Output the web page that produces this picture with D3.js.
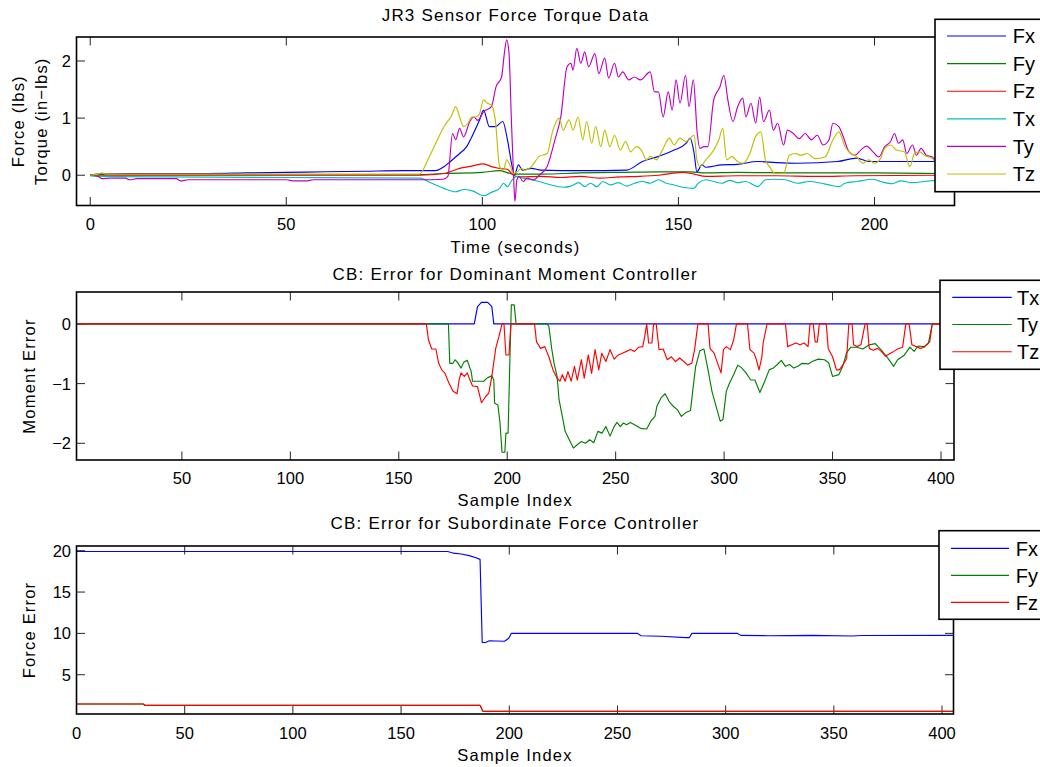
<!DOCTYPE html>
<html>
<head>
<meta charset="utf-8">
<script src="https://cdn.jsdelivr.net/npm/d3@7"></script>
<style>
body { margin: 0; background: #fff; }
text { font-family: "Liberation Sans", Arial, Helvetica, sans-serif; fill: #000; }
</style>
</head>
<body>
<svg id="fig" width="1040" height="767"></svg>
<script>
// ---- JR3 sensor data: [time (s), value] ----
const jr3Fx = [[0,0.0],[2,0.02],[10,0.03],[20,0.03],[30,0.03],[40,0.04],[50,0.05],[60,0.06],[70,0.07],[80,0.08],[88,0.08],
  [90.2,0.15],[92,0.25],[94.2,0.38],[96,0.5],[97.3,0.67],[99.3,0.97],[100.3,1.14],[101.8,0.85],[103.3,0.85],[105.2,0.94],
  [106.4,0.62],[107.6,0.15],[108.2,0.0],[109.2,0.18],[110.2,0.09],[112.5,0.12],[115,0.09],[125,0.08],[136.8,0.09],
  [140.8,0.24],[144.9,0.33],[148.9,0.44],[152,0.56],[153,0.65],[154,0.38],[154.7,0.06],[156,0.18],[157,0.14],[161,0.18],
  [165,0.19],[170.2,0.24],[175,0.22],[180.3,0.21],[190.5,0.24],[195.5,0.3],[198.5,0.24],[205.6,0.24],[215.5,0.24]];
const jr3Fy = [[0,0.01],[84,0.01],[90,0.03],[100,0.05],[104.4,0.08],[107.9,0.02],[115,0.02],[125,0.04],[135,0.05],
  [145,0.06],[153,0.06],[157,0.04],[165,0.05],[180,0.04],[200,0.04],[215.5,0.03]];
const jr3Fz = [[0,0],[84,0],[90.2,0.03],[94.2,0.12],[97.3,0.16],[100.3,0.2],[102.3,0.15],[104.4,0.12],[106.4,0.1],
  [107.9,0.0],[109.5,-0.03],[115,-0.02],[120,-0.04],[125,-0.02],[130,-0.05],[135,-0.03],[140,-0.02],[145,0.0],
  [151,0.05],[154,0.02],[157,-0.02],[165,-0.01],[175,-0.01],[185,-0.02],[195,-0.01],[215.5,0.0]];
const jr3Tx = [[0,-0.01],[5,-0.02],[20,-0.03],[50,-0.04],[84,-0.05],[87.1,-0.14],[90.2,-0.23],[93.2,-0.29],[95.2,-0.25],
  [97.3,-0.27],[100.3,-0.36],[102.3,-0.3],[104.4,-0.23],[105.4,-0.14],[106.4,-0.2],[107.6,-0.08],[108.9,-0.02],
  [110.4,-0.05],[112.5,-0.08],[114.5,-0.11],[117.5,-0.17],[120.6,-0.21],[122.6,-0.19],[124.6,-0.13],[126.1,-0.2],
  [127.6,-0.14],[129.2,-0.2],[130.7,-0.11],[132.7,-0.17],[134.7,-0.13],[136.8,-0.19],[138.8,-0.14],[140.8,-0.11],
  [142.8,-0.14],[144.9,-0.08],[146.9,-0.14],[148.9,-0.17],[151,-0.21],[154,-0.23],[155,-0.14],[157,-0.08],[159,-0.11],
  [161.1,-0.14],[163.1,-0.09],[165.1,-0.13],[167.2,-0.11],[170.2,-0.2],[172.2,-0.08],[174.2,-0.07],[177.3,-0.08],
  [180.3,-0.14],[183.4,-0.11],[186.4,-0.14],[188.4,-0.17],[190.9,-0.2],[192.5,-0.14],[195.5,-0.11],[199.6,-0.07],
  [201.6,-0.11],[204.6,-0.15],[206.6,-0.1],[209.7,-0.13],[212.7,-0.11],[215.5,-0.09]];
const jr3Ty = [[0,0],[2,-0.02],[3,-0.06],[5,-0.05],[9,-0.05],[10,-0.08],[12,-0.06],[22,-0.06],[23,-0.1],[25,-0.08],
  [50,-0.08],[52,-0.1],[55,-0.1],[57,-0.08],[70,-0.08],[84,-0.08],[90,-0.07],[91.2,-0.02],[92.4,0.73],[93.2,0.62],
  [94.2,0.82],[95.2,0.67],[96.8,0.94],[97.8,1.02],[98.8,0.96],[100.3,1.11],[102.3,1.2],[103.5,1.55],[104.9,1.72],
  [105.6,2.13],[106.2,2.37],[106.8,2.13],[107.4,0.97],[108,-0.08],[108.3,-0.46],[108.8,-0.08],[109.4,-0.02],
  [110.4,-0.11],[111.4,-0.05],[113,-0.08],[114.5,0.0],[116.5,0.15],[118.5,0.62],[120,1.02],[121.6,1.9],[122.6,1.96],
  [123.1,1.84],[124.1,2.22],[125.1,1.96],[126.1,2.16],[127.1,1.9],[128.7,2.13],[129.7,1.78],[131.2,2.05],[132.2,1.7],
  [133.7,1.96],[134.7,1.72],[135.8,1.81],[137.3,1.67],[138.8,1.72],[140.3,1.67],[142.8,1.81],[143.9,1.46],[144.9,1.46],
  [146.1,1.02],[147.4,1.46],[148.4,1.14],[149.4,1.67],[150.4,1.26],[151.8,1.75],[152.7,1.2],[153.8,1.67],[154.8,0.73],
  [155.5,0.47],[156.5,0.5],[157.5,0.5],[159,1.32],[160.6,1.55],[161.6,1.75],[162.6,1.32],[163.9,0.94],[165.1,1.2],
  [166.4,1.35],[167.2,1.02],[168.5,1.26],[169.7,0.91],[170.7,1.37],[171.7,0.94],[173.2,1.14],[174.2,0.79],[175.3,0.91],
  [176.8,0.53],[177.8,0.79],[179.3,0.73],[180.8,0.64],[182.3,0.73],[183.9,0.62],[185.4,0.7],[186.9,0.53],[188.4,0.62],
  [189.4,0.91],[190.9,0.85],[191.9,0.7],[193.5,0.41],[195,0.35],[196.5,0.44],[198,0.51],[199.6,0.41],[201.1,0.32],
  [202.6,0.5],[204.1,0.59],[205.1,0.73],[206.1,0.56],[207.2,0.62],[208.2,0.38],[209.7,0.53],[210.7,0.35],[211.9,0.47],
  [213.2,0.35],[214.8,0.32],[215.6,0.21]];
const jr3Tz = [[0,0.0],[2,0.02],[3,0.04],[4,0.02],[84,0.02],[86.1,0.27],[88.1,0.56],[90.2,0.85],[92.2,1.05],[93.2,1.2],
  [94.2,1.02],[95.2,0.85],[96.3,0.91],[97.3,1.02],[98.3,1.02],[99.3,1.08],[100.3,1.32],[101.3,1.26],[102.3,1.23],
  [103.3,0.97],[104.4,0.15],[105.4,0.09],[106.2,0.27],[107.2,0.15],[107.9,0.03],[108.9,0.06],[109.9,0.12],[110.9,0.09],
  [112.5,0.15],[114.5,0.33],[116.5,0.38],[118,0.79],[119.6,1.0],[120.6,0.79],[122.1,0.97],[123.1,0.79],[124.4,1.02],
  [125.6,0.62],[126.6,0.94],[127.9,0.56],[128.9,0.85],[130.2,0.5],[131.2,0.79],[132.5,0.5],[133.7,0.7],[135.2,0.44],
  [136.5,0.59],[137.8,0.41],[139.3,0.5],[140.8,0.41],[141.8,0.27],[142.8,0.33],[144.4,0.27],[145.9,0.44],[147.7,0.65],
  [148.9,0.53],[150.4,0.65],[151.9,0.59],[154,0.7],[154.7,0.27],[155.5,0.15],[157,0.27],[159,0.44],[160.3,0.62],
  [161.3,0.82],[162.3,0.27],[163.6,0.33],[165.1,0.24],[166.6,0.21],[168.2,0.38],[169.7,0.68],[171,0.76],[172.2,0.27],
  [173.2,0.15],[174.7,0.03],[176.8,0.03],[178.3,0.35],[179.8,0.38],[181.3,0.35],[182.8,0.38],[184.9,0.29],[187.4,0.32],
  [189.4,0.62],[190.9,0.76],[192.5,0.5],[194,0.38],[195.5,0.32],[197,0.21],[198.5,0.27],[200,0.21],[201.6,0.3],
  [202.6,0.47],[204.1,0.53],[205.6,0.44],[207.6,0.41],[209,0.15],[210.2,0.38],[211.5,0.41],[212.7,0.35],[214.8,0.29],
  [215.6,0.21]];

// ---- dominant moment controller error: [sample, value] ----
const momTx = [[1,0],[184.8,0],[186.3,0.29],[188.1,0.36],[191,0.36],[192.9,0.29],[193.8,0],[406,0]];
const momTy = [[1,0],[172.9,0],[173.5,-0.66],[175,-0.66],[175.9,-0.6],[177,-0.64],[178.7,-0.74],[180,-0.64],[181.6,-0.61],
  [183.4,-0.8],[184,-0.96],[189.1,-0.96],[191,-0.9],[192.9,-0.87],[193.8,-0.94],[194.2,-1.33],[195.7,-1.36],[196.6,-1.63],
  [197.6,-2.15],[198.9,-2.15],[199.4,-1.83],[200.4,-1.83],[201.3,-0.49],[201.9,0.32],[203.2,0.32],[204.1,0],[218.3,0],
  [219.2,-0.04],[220.5,-0.41],[221.6,-0.66],[223,-0.88],[223.9,-1.27],[225.4,-1.55],[226.7,-1.8],[228.6,-1.94],
  [230.5,-2.08],[232.4,-2.02],[234.2,-1.97],[236.1,-2.0],[238,-1.94],[239.9,-1.99],[241.8,-1.8],[243.7,-1.83],
  [245.5,-1.72],[247.4,-1.88],[249.3,-1.72],[250.6,-1.65],[252.1,-1.72],[253.6,-1.66],[255,-1.69],[256.8,-1.65],
  [258.7,-1.69],[261.5,-1.75],[264.3,-1.76],[266.2,-1.63],[268.1,-1.55],[269,-1.38],[270.9,-1.24],[272.8,-1.17],
  [274.7,-1.3],[276.6,-1.38],[278.5,-1.44],[280.3,-1.55],[282.2,-1.49],[284.5,-1.45],[285.6,-1.1],[286.9,-0.71],
  [288.8,-0.45],[290.7,-0.42],[292.6,-0.77],[294.4,-1.13],[296.3,-1.38],[298.2,-1.63],[299.5,-1.6],[301,-1.13],
  [302.5,-0.99],[304.4,-0.85],[306.3,-0.69],[308.2,-0.74],[310.1,-0.82],[312.3,-0.94],[314.2,-0.94],[316.5,-1.15],
  [318.4,-0.99],[320.8,-0.77],[322.7,-0.74],[324.5,-0.68],[326.4,-0.61],[328.3,-0.71],[330.2,-0.68],[332.1,-0.74],
  [334,-0.71],[336,-0.66],[338.8,-0.67],[340.6,-0.63],[343.4,-0.59],[346.3,-0.6],[348.2,-0.65],[350,-0.88],
  [352.9,-0.85],[354.7,-0.71],[356.5,-0.48],[358.4,-0.39],[361.2,-0.39],[364,-0.42],[366.9,-0.35],[369.7,-0.33],
  [372.5,-0.44],[375.4,-0.57],[378.2,-0.71],[380,-0.6],[382.9,-0.53],[385.7,-0.39],[387.6,-0.46],[389.5,-0.37],
  [392.3,-0.38],[394.2,-0.32],[396,0],[406,0]];
const momTz = [[1,0],[162.7,0],[163.7,-0.27],[165.2,-0.42],[167.1,-0.42],[168.4,-0.66],[169.8,-0.77],[171.2,-0.82],
  [173.1,-0.99],[175,-1.13],[176.9,-1.17],[177.8,-0.94],[178.7,-0.82],[180.2,-0.88],[181.6,-0.82],[182.5,-0.91],
  [184,-1.04],[186.3,-1.05],[188.1,-1.32],[190,-1.22],[191.5,-1.16],[192.9,-0.88],[194.7,-0.41],[196.2,-0.21],
  [197.6,0],[198.5,0],[199.4,-0.52],[200.8,-0.52],[201.7,0],[212.6,0],[213.5,-0.3],[215.4,-0.41],[217.3,-0.38],
  [219.2,-0.55],[221.1,-0.77],[223,-0.91],[224.3,-0.96],[225.4,-0.85],[226.7,-0.96],[228,-0.8],[229.5,-0.96],[231,-0.71],
  [232.3,-0.94],[234.2,-0.6],[235.5,-0.91],[237.4,-0.52],[238.9,-0.83],[240.5,-0.43],[242.2,-0.77],[243.6,-0.49],
  [245.5,-0.63],[247.4,-0.43],[249.3,-0.59],[251.2,-0.52],[253.1,-0.49],[255,-0.46],[256.8,-0.43],[258.7,-0.46],
  [260.6,-0.39],[262.5,-0.38],[263.4,-0.21],[264.3,0],[265.2,-0.32],[266.7,-0.32],[267.5,0],[268.7,0],[270,-0.43],
  [271.9,-0.42],[273.8,-0.6],[275.7,-0.55],[277.6,-0.63],[279.5,-0.57],[281.4,-0.63],[283.2,-0.69],[285.1,-0.66],
  [286.4,-0.43],[287.9,0],[292.6,0],[293.5,-0.41],[295.4,-0.49],[297.3,-0.69],[298.6,-0.82],[299.7,-0.43],[301,-0.38],
  [302.9,-0.43],[304.4,-0.27],[305.7,0],[310.8,0],[311.9,-0.43],[313.8,-0.49],[314.9,-0.6],[316.1,-0.77],[317.4,-0.56],
  [318,-0.32],[319.8,0],[328.3,0],[329.3,-0.38],[331.2,-0.35],[333.1,-0.32],[335,-0.35],[336.9,-0.32],[338.7,-0.38],
  [339.6,0],[341.1,0],[342,-0.3],[343,-0.3],[343.9,0],[347.1,0],[348,-0.41],[350,-0.55],[351.8,-0.77],[353.1,-0.77],
  [354.7,-0.69],[356.5,-0.58],[357.5,0],[359,0],[359.7,-0.35],[361.2,-0.38],[363.1,-0.35],[365,0],[366,0],[366.9,-0.41],
  [368.8,-0.44],[370.7,-0.41],[372.5,-0.46],[374.4,-0.54],[376.3,-0.5],[378.2,-0.46],[380,-0.42],[382.3,-0.39],
  [383.8,0],[385.3,0],[386.6,-0.35],[388.5,-0.38],[390.4,-0.41],[392.3,-0.39],[394.8,-0.3],[396,0],[406,0]];

// ---- subordinate force controller error: [sample, value] ----
const forFx = [[0,19.9],[171.6,19.9],[174.2,19.7],[177.8,19.6],[181.5,19.4],[184.6,19.15],[186.5,18.95],[187.5,8.9],
  [189,8.9],[190.8,9.1],[194,9.08],[197.8,9.05],[199.8,9.4],[200.9,10.0],[259.3,10.0],[260.9,9.72],[270,9.65],
  [281.6,9.48],[283.2,9.48],[284.4,10.0],[305.5,10.0],[307,9.76],[320,9.72],[340,9.76],[358.7,9.68],[363,9.74],[405,9.76]];
const forFy = [[0,1.46],[30.8,1.46],[31.6,1.3],[186.5,1.3],[187.8,0.57],[405,0.57]];
const forFz = [[0,1.46],[30.8,1.46],[31.6,1.3],[186.5,1.3],[187.8,0.57],[405,0.57]];

// tick values
const jr3XTicks = [0, 50, 100, 150, 200];
const jr3YTicks = [0, 1, 2];
const momXTicks = [50, 100, 150, 200, 250, 300, 350, 400];
const momYTicks = [-2, -1, 0];
const forXTicks = [0, 50, 100, 150, 200, 250, 300, 350, 400];
const forYTicks = [5, 10, 15, 20];

const C = { b: '#0000ff', g: '#008000', r: '#ff0000', c: '#00bfbf', m: '#bf00bf', y: '#bfbf00' };

const panels = [
  {
    box: { left: 76.5, right: 954.5, top: 37, bottom: 205.5 },
    xDomain: [-3.5, 220.4], yDomain: [-0.53, 2.42],
    xTicks: jr3XTicks, yTicks: jr3YTicks, smooth: true,
    title: 'JR3 Sensor Force Torque Data', titleY: 21,
    xLabel: 'Time (seconds)', xLabelY: 252.5, tickY: 230,
    yLabel: ['Force (lbs)', 'Torque (in\u2212lbs)'], yLabelX: [23.5, 46.5],
    series: [['Fx', jr3Fx, C.b], ['Fy', jr3Fy, C.g], ['Fz', jr3Fz, C.r],
             ['Tx', jr3Tx, C.c], ['Ty', jr3Ty, C.m], ['Tz', jr3Tz, C.y]],
    legend: { x: 935, y: 19.3, h: 172.4, row0: 36, step: 27.6, lx0: 947, lx1: 1006, tx: 1012.7 }
  },
  {
    box: { left: 76.5, right: 954, top: 292, bottom: 460 },
    xDomain: [1.4, 406], yDomain: [-2.28, 0.535],
    xTicks: momXTicks, yTicks: momYTicks, smooth: false,
    title: 'CB: Error for Dominant Moment Controller', titleY: 280,
    xLabel: 'Sample Index', xLabelY: 506, tickY: 484,
    yLabel: ['Moment Error'], yLabelX: [35.3],
    series: [['Tx', momTx, C.b], ['Ty', momTy, C.g], ['Tz', momTz, C.r]],
    legend: { x: 940, y: 280.3, h: 89, row0: 297.3, step: 27.2, lx0: 952.3, lx1: 1011.7, tx: 1017 }
  },
  {
    box: { left: 76.5, right: 953.5, top: 546, bottom: 714 },
    xDomain: [0, 405.3], yDomain: [0.25, 20.57],
    xTicks: forXTicks, yTicks: forYTicks, smooth: false,
    title: 'CB: Error for Subordinate Force Controller', titleY: 529,
    xLabel: 'Sample Index', xLabelY: 761, tickY: 739,
    yLabel: ['Force Error'], yLabelX: [35.3],
    series: [['Fx', forFx, C.b], ['Fy', forFy, C.g], ['Fz', forFz, C.r]],
    legend: { x: 939, y: 530.7, h: 88.6, row0: 548.3, step: 27, lx0: 951, lx1: 1009, tx: 1015.7 }
  }
];

const svg = d3.select('#fig');
const fmt = d3.format('');
const tickLen = 8.5;

panels.forEach((p, i) => drawPanel(p, i));

function drawPanel(p, idx) {
  const b = p.box;
  const x = d3.scaleLinear().domain(p.xDomain).range([b.left, b.right]);
  const y = d3.scaleLinear().domain(p.yDomain).range([b.bottom, b.top]);
  const g = svg.append('g');

  g.append('clipPath').attr('id', 'clip' + idx)
    .append('rect')
      .attr('x', b.left).attr('y', b.top)
      .attr('width', b.right - b.left).attr('height', b.bottom - b.top);

  // ticks (inside, on all four sides)
  const tk = g.append('g').attr('stroke', '#262626').attr('stroke-width', 1);
  p.xTicks.forEach(t => {
    const px = x(t);
    tk.append('line').attr('x1', px).attr('x2', px).attr('y1', b.bottom).attr('y2', b.bottom - tickLen);
    tk.append('line').attr('x1', px).attr('x2', px).attr('y1', b.top).attr('y2', b.top + tickLen);
  });
  p.yTicks.forEach(t => {
    const py = y(t);
    tk.append('line').attr('x1', b.left).attr('x2', b.left + tickLen).attr('y1', py).attr('y2', py);
    tk.append('line').attr('x1', b.right).attr('x2', b.right - tickLen).attr('y1', py).attr('y2', py);
  });

  // data lines
  const line = d3.line().x(d => x(d[0])).y(d => y(d[1]));
  if (p.smooth) line.curve(d3.curveMonotoneX);
  const lines = g.append('g').attr('clip-path', 'url(#clip' + idx + ')');
  p.series.forEach(s => {
    lines.append('path')
      .attr('d', line(s[1]))
      .attr('fill', 'none')
      .attr('stroke', s[2])
      .attr('stroke-width', 1.15)
      .attr('stroke-linejoin', 'round');
  });

  // axes box
  g.append('rect')
    .attr('x', b.left).attr('y', b.top)
    .attr('width', b.right - b.left).attr('height', b.bottom - b.top)
    .attr('fill', 'none').attr('stroke', '#000').attr('stroke-width', 1.6);

  // tick labels
  p.xTicks.forEach(t => {
    g.append('text').attr('x', x(t)).attr('y', p.tickY)
      .attr('text-anchor', 'middle').style('font-size', '16.5px').text(fmt(t));
  });
  p.yTicks.forEach(t => {
    g.append('text').attr('x', 71).attr('y', y(t)).attr('dy', '0.36em')
      .attr('text-anchor', 'end').style('font-size', '16.5px').text(fmt(t));
  });

  // title and labels
  const cx = (b.left + b.right) / 2;
  g.append('text').attr('x', cx).attr('y', p.titleY)
    .attr('text-anchor', 'middle').style('font-size', '17px').style('letter-spacing', '1.2px')
    .text(p.title);
  g.append('text').attr('x', cx).attr('y', p.xLabelY)
    .attr('text-anchor', 'middle').style('font-size', '16.5px').style('letter-spacing', '1.2px')
    .text(p.xLabel);
  const cy = (b.top + b.bottom) / 2;
  p.yLabel.forEach((lbl, k) => {
    g.append('text')
      .attr('transform', 'translate(' + p.yLabelX[k] + ',' + cy + ') rotate(-90)')
      .attr('text-anchor', 'middle').style('font-size', '16.5px').style('letter-spacing', '1.2px')
      .text(lbl);
  });

  // legend
  const L = p.legend;
  const lg = g.append('g');
  lg.append('rect').attr('x', L.x).attr('y', L.y).attr('width', 140).attr('height', L.h)
    .attr('fill', '#fff').attr('stroke', '#000').attr('stroke-width', 1.6);
  p.series.forEach((s, k) => {
    const ry = L.row0 + k * L.step;
    lg.append('line').attr('x1', L.lx0).attr('x2', L.lx1).attr('y1', ry).attr('y2', ry)
      .attr('stroke', s[2]).attr('stroke-width', 1.15);
    lg.append('text').attr('x', L.tx).attr('y', ry).attr('dy', '0.36em')
      .style('font-size', '20px').text(s[0]);
  });
}
</script>
</body>
</html>
